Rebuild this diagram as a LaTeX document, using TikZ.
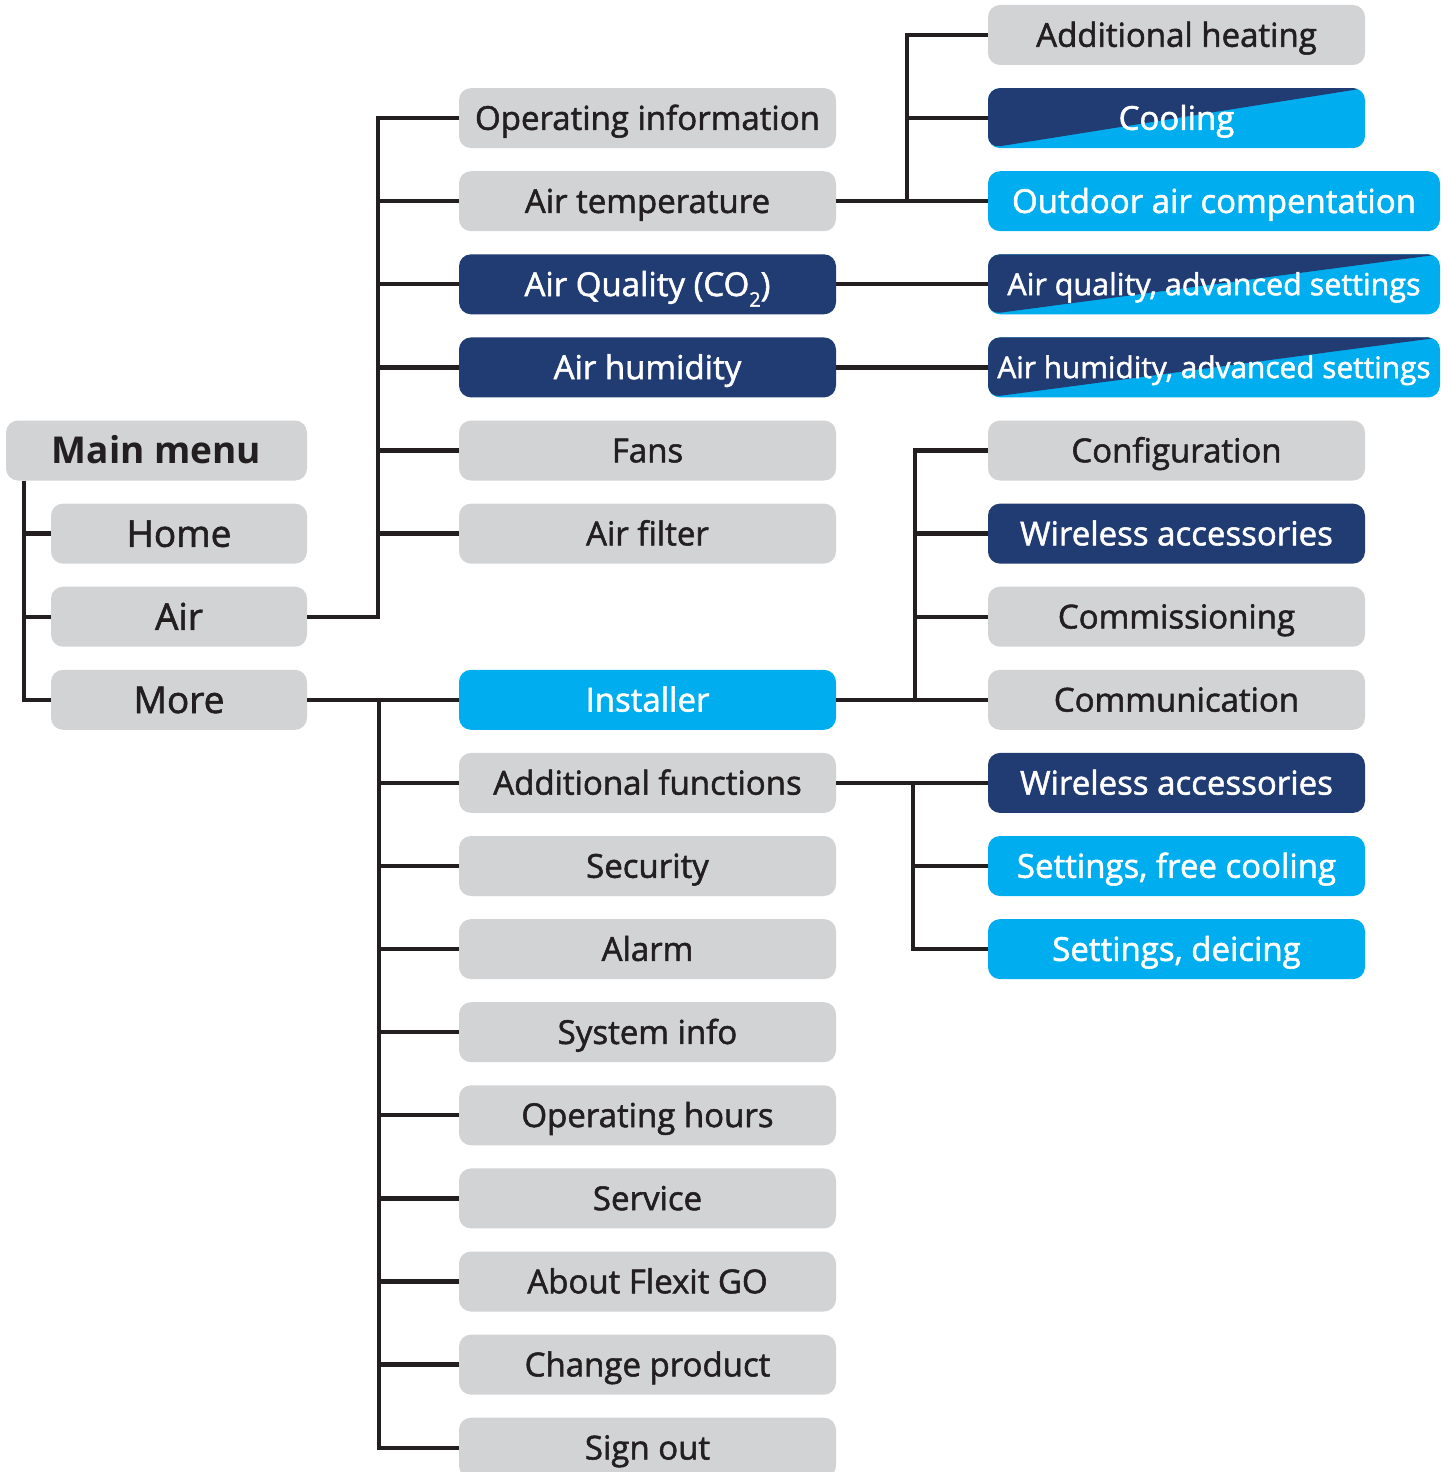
\documentclass[tikz,border=0pt]{standalone}
\usepackage{fontspec}
\setmainfont{Open Sans}[UprightFeatures={FakeBold=1.6}]
\definecolor{boxgrey}{HTML}{D1D3D4}
\definecolor{navy}{HTML}{213B73}
\definecolor{skyblue}{HTML}{00AEEF}
\definecolor{ink}{HTML}{231F20}

\begin{document}
\begin{tikzpicture}[x=1pt,y=-1pt,
  menubox/.style={rounded corners=12pt,minimum height=60pt,inner sep=0pt,outer sep=0pt,
    font=\fontsize{33}{40}\selectfont,text height=23.5pt,text depth=0pt},
  greybox/.style={menubox,fill=boxgrey,text=ink},
  navybox/.style={menubox,fill=navy,text=white},
  bluebox/.style={menubox,fill=skyblue,text=white},
  splitbox/.style={bluebox,path picture={\fill[navy] (path picture bounding box.south west)
    -- (path picture bounding box.north west) -- (path picture bounding box.north east) -- cycle;}},
  bigtext/.style={font=\fontsize{37}{44}\selectfont,text height=26.4pt},
  leftcol/.style={minimum width=256pt},
  midcol/.style={minimum width=377pt},
  rightcol/.style={minimum width=377pt},
  widecol/.style={minimum width=452pt},
  wire/.style={draw=ink,line width=4.3pt}]

  \useasboundingbox (0,0) rectangle (1450,1472);

  % main menu
  \draw (156.5,450.5) node[greybox,bigtext,minimum width=301pt,font=\fontsize{37}{44}\selectfont\bfseries] (main) {Main menu};
  \draw (179,533.6) node[greybox,bigtext,leftcol] (home) {Home};
  \draw (179,616.7) node[greybox,bigtext,leftcol] (air) {Air};
  \draw (179,699.8) node[greybox,bigtext,leftcol] (more) {More};

  % air submenu
  \draw (647.5,118.1) node[greybox,midcol] (opinfo) {Operating information};
  \draw (647.5,201.2) node[greybox,midcol] (airtemp) {Air temperature};
  \draw (647.5,284.3) node[navybox,midcol] (airqual) {Air Quality (CO\raisebox{-0.6ex}{\fontsize{20}{20}\selectfont 2})};
  \draw (647.5,367.4) node[navybox,midcol] (airhum) {Air humidity};
  \draw (647.5,450.5) node[greybox,midcol] (fans) {Fans};
  \draw (647.5,533.6) node[greybox,midcol] (filter) {Air filter};

  % more submenu
  \draw (647.5,699.8) node[bluebox,midcol] (installer) {Installer};
  \draw (647.5,782.9) node[greybox,midcol] (addfunc) {Additional functions};
  \draw (647.5,866.0) node[greybox,midcol] (security) {Security};
  \draw (647.5,949.1) node[greybox,midcol] (alarm) {Alarm};
  \draw (647.5,1032.2) node[greybox,midcol] (sysinfo) {System info};
  \draw (647.5,1115.3) node[greybox,midcol] (ophours) {Operating hours};
  \draw (647.5,1198.4) node[greybox,midcol] (service) {Service};
  \draw (647.5,1281.5) node[greybox,midcol] (about) {About Flexit GO};
  \draw (647.5,1364.6) node[greybox,midcol] (change) {Change product};
  \draw (647.5,1447.7) node[greybox,midcol] (signout) {Sign out};

  % third level
  \draw (1176.5,35.0) node[greybox,rightcol] (addheat) {Additional heating};
  \draw (1176.5,118.1) node[splitbox,rightcol] (cooling) {Cooling};
  \draw (1214,201.2) node[bluebox,widecol] (outdoor) {Outdoor air compentation};
  \draw (1214,284.3) node[splitbox,widecol,font=\fontsize{30.5}{36}\selectfont,text height=21.8pt] (aqadv) {Air quality, advanced settings};
  \draw (1214,367.4) node[splitbox,widecol,font=\fontsize{29.8}{36}\selectfont,text height=21.3pt] (ahadv) {Air humidity, advanced settings};
  \draw (1176.5,450.5) node[greybox,rightcol] (config) {Configuration};
  \draw (1176.5,533.6) node[navybox,rightcol] (wless) {Wireless accessories};
  \draw (1176.5,616.7) node[greybox,rightcol] (commis) {Commissioning};
  \draw (1176.5,699.8) node[greybox,rightcol] (comm) {Communication};
  \draw (1176.5,782.9) node[navybox,rightcol] (wlessb) {Wireless accessories};
  \draw (1176.5,866.0) node[bluebox,rightcol] (freecool) {Settings, free cooling};
  \draw (1176.5,949.1) node[bluebox,rightcol] (deicing) {Settings, deicing};

  % lines from main menu
  \draw[wire] ([xshift=18pt]main.south west) |- (home.west);
  \draw[wire] ([xshift=18pt]main.south west) |- (air.west);
  \draw[wire] ([xshift=18pt]main.south west) |- (more.west);

  % lines from air
  \draw[wire] (air.east) -- ++(71,0) |- (opinfo.west);
  \draw[wire] (air.east) -- ++(71,0) |- (airtemp.west);
  \draw[wire] (air.east) -- ++(71,0) |- (airqual.west);
  \draw[wire] (air.east) -- ++(71,0) |- (airhum.west);
  \draw[wire] (air.east) -- ++(71,0) |- (fans.west);
  \draw[wire] (air.east) -- ++(71,0) |- (filter.west);

  % lines from more
  \draw[wire] (more.east) -- (installer.west);
  \draw[wire] (more.east) -- ++(72,0) |- (addfunc.west);
  \draw[wire] (more.east) -- ++(72,0) |- (security.west);
  \draw[wire] (more.east) -- ++(72,0) |- (alarm.west);
  \draw[wire] (more.east) -- ++(72,0) |- (sysinfo.west);
  \draw[wire] (more.east) -- ++(72,0) |- (ophours.west);
  \draw[wire] (more.east) -- ++(72,0) |- (service.west);
  \draw[wire] (more.east) -- ++(72,0) |- (about.west);
  \draw[wire] (more.east) -- ++(72,0) |- (change.west);
  \draw[wire] (more.east) -- ++(72,0) |- (signout.west);

  % third level lines
  \draw[wire] (airtemp.east) -- (outdoor.west);
  \draw[wire] (airtemp.east) -- ++(71,0) |- (cooling.west);
  \draw[wire] (airtemp.east) -- ++(71,0) |- (addheat.west);
  \draw[wire] (airqual.east) -- (aqadv.west);
  \draw[wire] (airhum.east) -- (ahadv.west);
  \draw[wire] (installer.east) -- (comm.west);
  \draw[wire] (installer.east) -- ++(79,0) |- (commis.west);
  \draw[wire] (installer.east) -- ++(79,0) |- (wless.west);
  \draw[wire] (installer.east) -- ++(79,0) |- (config.west);
  \draw[wire] (addfunc.east) -- (wlessb.west);
  \draw[wire] (addfunc.east) -- ++(77,0) |- (freecool.west);
  \draw[wire] (addfunc.east) -- ++(77,0) |- (deicing.west);

\end{tikzpicture}
\end{document}
